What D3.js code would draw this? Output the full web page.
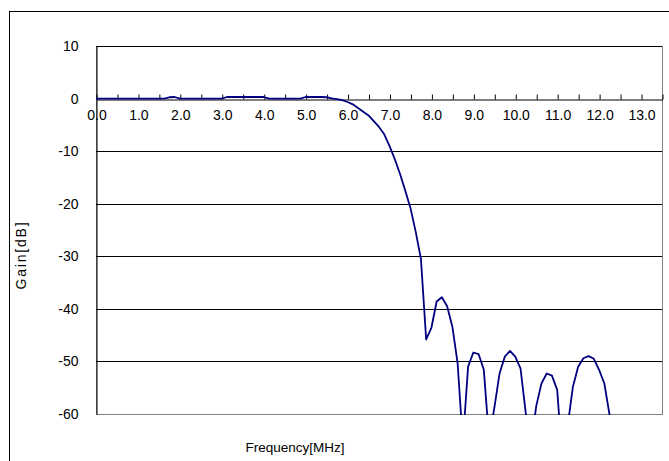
<!DOCTYPE html>
<html>
<head>
<meta charset="utf-8">
<script src="https://cdn.jsdelivr.net/npm/d3@7"></script>
<style>
  html, body { margin: 0; padding: 0; background: #fff; }
  svg { display: block; font-family: "Liberation Sans", Arial, sans-serif; }
</style>
</head>
<body>
<div id="chart"></div>
<script>
const kSvgWidth = 669;
const kSvgHeight = 461;
const kPlotLeft = 96;
const kPlotRight = 662;
const kPlotTop = 46;
const kPlotBottom = 414;
const kLineColor = "#000080";

// frequency response (MHz, dB)
const freqMHz = [0.0, 1.625, 1.75, 1.875, 2.0, 3.0, 3.125, 4.0, 4.125, 4.875, 5.0, 5.375, 5.5, 5.625,
  5.75, 5.875, 6.0, 6.125, 6.25, 6.375, 6.5, 6.625, 6.75, 6.875, 7.0, 7.125, 7.25, 7.375, 7.5, 7.625,
  7.75, 7.875, 8.0, 8.125, 8.25, 8.375, 8.5, 8.625, 8.75, 8.875, 9.0, 9.125, 9.25, 9.375, 9.5, 9.625,
  9.75, 9.875, 10.0, 10.125, 10.25, 10.375, 10.5, 10.625, 10.75, 10.875, 11.0, 11.125, 11.25, 11.375,
  11.5, 11.625, 11.75, 11.875, 12.0, 12.125, 12.25, 12.375];
const gainDb = [0.0, 0.0, 0.25, 0.3, 0.0, 0.0, 0.3, 0.3, 0.0, 0.0, 0.3, 0.3, 0.25, 0.05,
  -0.1, -0.3, -0.65, -1.1, -1.8, -2.5, -3.2, -4.3, -5.4, -6.8, -9.0, -11.5, -14.3, -17.5, -20.8, -25.3,
  -30.5, -45.8, -43.6, -38.6, -37.8, -39.5, -43.4, -50.3, -65.5, -51.0, -48.3, -48.6, -51.6, -64.7, -58.9, -52.3,
  -49.1, -48.0, -49.1, -51.3, -59.8, -66.0, -58.5, -54.2, -52.3, -52.7, -55.4, -69.0, -62.3, -54.8,
  -51.0, -49.4, -49.0, -49.5, -51.6, -54.2, -60.2, -68.0];

const xTickLabels = ["0.0", "1.0", "2.0", "3.0", "4.0", "5.0", "6.0", "7.0", "8.0", "9.0", "10.0", "11.0", "12.0", "13.0"];
const yTicks = [10, 0, -10, -20, -30, -40, -50, -60];
const xTitle = "Frequency[MHz]";
const yTitle = "Gain[dB]";

function createSvg()
{
  const svg = d3.select("#chart")
    .append("svg")
    .attr("width", kSvgWidth)
    .attr("height", kSvgHeight);

  // chart area border (runs off the right and bottom edges)
  svg.append("rect")
    .attr("x", 9.5)
    .attr("y", 11.5)
    .attr("width", 700)
    .attr("height", 480)
    .attr("fill", "#fff")
    .attr("stroke", "#000");

  return svg;
}

function drawChart(svg)
{
  const xScale = d3.scaleLinear()
    .domain([0, 13.5])
    .range([kPlotLeft, kPlotRight]);

  const yScale = d3.scaleLinear()
    .domain([10, -60])
    .range([kPlotTop, kPlotBottom]);

  // plot area frame
  svg.append("rect")
    .attr("x", kPlotLeft + 0.5)
    .attr("y", kPlotTop + 0.5)
    .attr("width", kPlotRight - kPlotLeft)
    .attr("height", kPlotBottom - kPlotTop)
    .attr("fill", "#fff")
    .attr("stroke", "#808080");

  // gridlines
  svg.append("g")
    .selectAll("line")
    .data(yTicks.filter(d => d !== 0 && d !== -60))
    .enter()
    .append("line")
    .attr("x1", kPlotLeft)
    .attr("x2", kPlotRight)
    .attr("y1", d => Math.round(yScale(d)) + 0.5)
    .attr("y2", d => Math.round(yScale(d)) + 0.5)
    .attr("stroke", "#000");

  // y axis
  const yAxis = d3.axisLeft(yScale)
    .tickValues(yTicks)
    .tickSize(0)
    .tickPadding(18)
    .tickFormat(d => String(d));

  const gy = svg.append("g")
    .attr("transform", `translate(${kPlotLeft + 0.5}, 0)`)
    .call(yAxis);
  gy.select(".domain").attr("stroke", "#000");
  gy.selectAll("text")
    .style("font-size", "14px")
    .attr("fill", "#000");

  // x axis sits on the 0 dB line, ticks point up, labels below
  const xTickValues = d3.range(0, 13.51, 0.5);
  const xAxis = d3.axisBottom(xScale)
    .tickValues(xTickValues)
    .tickSizeInner(-5)
    .tickSizeOuter(0)
    .tickPadding(11)
    .tickFormat(d => Number.isInteger(d) ? xTickLabels[d] : "");

  const gx = svg.append("g")
    .attr("transform", `translate(0.5, ${Math.round(yScale(0)) + 0.5})`)
    .call(xAxis);
  gx.select(".domain").attr("stroke", "#000");
  gx.selectAll(".tick line").attr("stroke", "#000");
  gx.selectAll("text")
    .style("font-size", "14px")
    .attr("fill", "#000");

  // response curve
  svg.append("clipPath")
    .attr("id", "plot-clip")
    .append("rect")
    .attr("x", kPlotLeft)
    .attr("y", kPlotTop)
    .attr("width", kPlotRight - kPlotLeft + 1)
    .attr("height", kPlotBottom - kPlotTop + 1);

  const line = d3.line()
    .x(d => xScale(d[0]))
    .y(d => yScale(d[1]));

  svg.append("path")
    .datum(freqMHz.map((f, i) => [f, gainDb[i]]))
    .attr("clip-path", "url(#plot-clip)")
    .attr("d", line)
    .attr("fill", "none")
    .attr("stroke", kLineColor)
    .attr("stroke-width", 1.8)
    .attr("stroke-linejoin", "round");

  // titles
  svg.append("text")
    .attr("x", 295)
    .attr("y", 452)
    .attr("text-anchor", "middle")
    .style("font-size", "13.5px")
    .text(xTitle);

  svg.append("text")
    .attr("transform", "translate(26, 255) rotate(-90)")
    .attr("text-anchor", "middle")
    .style("font-size", "14px")
    .style("letter-spacing", "1.8px")
    .text(yTitle);
}

document.addEventListener('DOMContentLoaded', () => {
  const svg = createSvg();
  drawChart(svg);
});
</script>
</body>
</html>
